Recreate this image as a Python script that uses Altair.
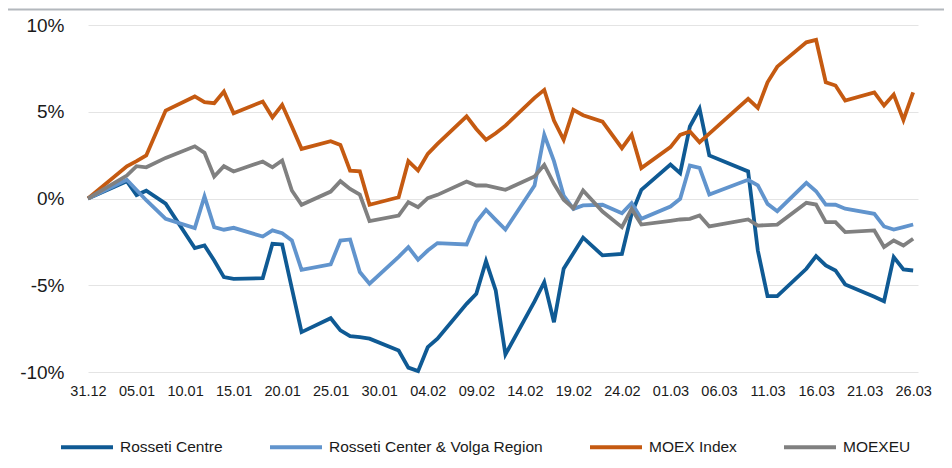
import json
import altair as alt
import pandas as pd

dates = [
    "2020-12-31", "2021-01-04", "2021-01-05", "2021-01-06", "2021-01-08",
    "2021-01-11", "2021-01-12", "2021-01-13", "2021-01-14", "2021-01-15",
    "2021-01-18", "2021-01-19", "2021-01-20", "2021-01-21", "2021-01-22",
    "2021-01-25", "2021-01-26", "2021-01-27", "2021-01-28", "2021-01-29",
    "2021-02-01", "2021-02-02", "2021-02-03", "2021-02-04", "2021-02-05",
    "2021-02-08", "2021-02-09", "2021-02-10", "2021-02-11", "2021-02-12",
    "2021-02-15", "2021-02-16", "2021-02-17", "2021-02-18", "2021-02-19",
    "2021-02-20", "2021-02-22", "2021-02-24", "2021-02-25", "2021-02-26",
    "2021-03-01", "2021-03-02", "2021-03-03", "2021-03-04", "2021-03-05",
    "2021-03-09", "2021-03-10", "2021-03-11", "2021-03-12",
    "2021-03-15", "2021-03-16", "2021-03-17", "2021-03-18", "2021-03-19",
    "2021-03-22", "2021-03-23", "2021-03-24", "2021-03-25", "2021-03-26",
]

rosseti_centre = [
    0.0, 1.0, 0.2, 0.45, -0.3,
    -2.86, -2.71, -3.57, -4.53, -4.63,
    -4.59, -2.61, -2.65, -5.18, -7.7,
    -6.9, -7.6, -7.93, -7.99, -8.08,
    -8.76, -9.75, -9.95, -8.57, -8.08,
    -6.07, -5.49, -3.61, -5.3, -8.99,
    -5.93, -4.82, -7.13, -4.05, -3.15,
    -2.26, -3.28, -3.19, -0.88, 0.5,
    1.96, 1.46, 4.15, 5.17, 2.48,
    1.56, -3.0, -5.63, -5.63,
    -4.05, -3.32, -3.86, -4.15, -4.95,
    -5.66, -5.92, -3.38, -4.09, -4.15,
]

rosseti_volga = [
    0.0, 1.08, 0.49, -0.1, -1.17,
    -1.71, 0.12, -1.65, -1.8, -1.69,
    -2.19, -1.84, -2.0, -2.42, -4.11,
    -3.8, -2.42, -2.36, -4.24, -4.91,
    -3.36, -2.8, -3.53, -3.0, -2.57,
    -2.65, -1.36, -0.65, -1.23, -1.79,
    0.75, 3.67, 2.15, 0.17, -0.6,
    -0.4, -0.36, -0.85, -0.27, -1.17,
    -0.46, -0.02, 1.9, 1.77, 0.23,
    1.08, 0.75, -0.31, -0.73,
    0.9, 0.42, -0.35, -0.36, -0.59,
    -0.88, -1.61, -1.79, -1.65, -1.5,
]

moex_index = [
    0.0, 1.86, 2.15, 2.48, 5.07,
    5.88, 5.55, 5.49, 6.16, 4.91,
    5.59, 4.68, 5.4, 4.15, 2.86,
    3.3, 3.09, 1.61, 1.57, -0.36,
    0.07, 2.15, 1.61, 2.57, 3.15,
    4.74, 4.01, 3.38, 3.76, 4.2,
    5.8, 6.26, 4.49, 3.38, 5.11,
    4.8, 4.43, 2.9, 3.67, 1.75,
    2.96, 3.67, 3.86, 3.24, 3.74,
    5.74, 5.22, 6.7, 7.6,
    9.0, 9.14, 6.7, 6.51, 5.65,
    6.12, 5.36, 5.99, 4.53, 6.12,
]

moexeu = [
    0.0, 1.32, 1.86, 1.8, 2.34,
    3.01, 2.63, 1.27, 1.86, 1.56,
    2.13, 1.8, 2.19, 0.46, -0.36,
    0.4, 1.0, 0.55, 0.23, -1.3,
    -0.98, -0.21, -0.5, 0.02, 0.21,
    0.98, 0.75, 0.75, 0.63, 0.5,
    1.27, 1.94, 0.85, -0.07, -0.56,
    0.46, -0.75, -1.65, -0.6, -1.5,
    -1.29, -1.21, -1.17, -0.98, -1.61,
    -1.21, -1.56, -1.53, -1.5,
    -0.25, -0.35, -1.36, -1.36, -1.94,
    -1.84, -2.8, -2.42, -2.71, -2.32,
]

tick_labels = ["31.12", "05.01", "10.01", "15.01", "20.01", "25.01", "30.01",
               "04.02", "09.02", "14.02", "19.02", "24.02", "01.03", "06.03",
               "11.03", "16.03", "21.03", "26.03"]

series_names = ["Rosseti Centre", "Rosseti Center & Volga Region", "MOEX Index", "MOEXEU"]
series_colors = ["#0f5a94", "#6194cd", "#c55a11", "#808080"]
y_ticks = [-10, -5, 0, 5, 10]

start = pd.Timestamp("2020-12-31")
day_nums = [(pd.Timestamp(d) - start).days for d in dates]

rows = []
for name, vals in zip(series_names, [rosseti_centre, rosseti_volga, moex_index, moexeu]):
    for dn, dt, v in zip(day_nums, dates, vals):
        rows.append({"day": dn, "date": dt, "series": name, "value": v})
df = pd.DataFrame(rows)

FONT = "Liberation Sans, Arial, sans-serif"

label_expr = json.dumps(tick_labels) + "[round(datum.value / 5)]"

lines = alt.Chart(df).mark_line(strokeWidth=3.8).encode(
    x=alt.X("day:Q",
            scale=alt.Scale(domain=[0, 85.5], nice=False, zero=False),
            axis=alt.Axis(values=list(range(0, 86, 5)), labelExpr=label_expr,
                          grid=False, domain=False, ticks=False,
                          labelFontSize=14.5, labelPadding=12, title=None,
                          labelOverlap=False, labelFlush=False,
                          labelColor="#1a1a1a", labelFont=FONT)),
    y=alt.Y("value:Q",
            scale=alt.Scale(domain=[-10, 10], nice=False),
            axis=alt.Axis(values=y_ticks, labelExpr="datum.value + '%'",
                          grid=True, gridColor="#e4e4e4", gridWidth=1,
                          domain=False, ticks=False, labelFontSize=19,
                          labelPadding=24, title=None, labelColor="#1a1a1a",
                          labelOverlap=False, labelFlush=False, labelFont=FONT)),
    color=alt.Color("series:N",
                    scale=alt.Scale(domain=series_names, range=series_colors),
                    sort=series_names,
                    legend=alt.Legend(orient="none", legendX=-29, legendY=394,
                                      direction="horizontal", title=None,
                                      symbolType="stroke", symbolSize=2704,
                                      symbolStrokeWidth=4, labelFontSize=15.5,
                                      labelFont=FONT, labelColor="#1a1a1a",
                                      columnPadding=39, labelOffset=5,
                                      labelLimit=400)),
    order=alt.Order("day:Q"),
)

top_rule = alt.Chart(pd.DataFrame({"k": [0]})).mark_rule(
    color="#b3b8bd", strokeWidth=2
).encode(x=alt.value(-80), x2=alt.value(856), y=alt.value(-15.5))

chart = alt.layer(lines, top_rule).properties(
    width=830, height=347,
    autosize=alt.AutoSizeParams(type="none"),
    padding={"left": 80, "top": 17, "right": 26, "bottom": 96},
).configure_view(stroke=None)

chart.save("out.html", embed_options={"renderer": "svg", "actions": False})
